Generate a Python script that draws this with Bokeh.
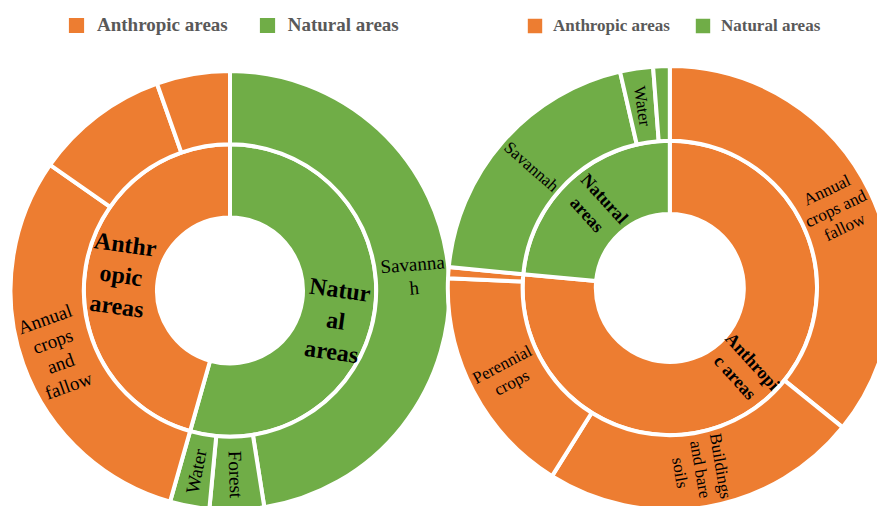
import math

from bokeh.core.properties import value
from bokeh.embed import file_html
from bokeh.models import ColumnDataSource, Legend, LegendItem, Range1d
from bokeh.plotting import figure
from bokeh.resources import INLINE

# ---- data: land-cover shares (%) ----
# left panel
left_groups = ["Natural areas", "Anthropic areas"]
left_group_labels = ["Natur\nal\nareas", "Anthr\nopic\nareas"]
left_classes = ["Savannah", "Forest", "Water",
                "Annual crops and fallow", "Perennial crops", "Buildings and bare soils"]
left_class_group = ["Natural areas", "Natural areas", "Natural areas",
                    "Anthropic areas", "Anthropic areas", "Anthropic areas"]
left_class_share = [47.5, 4.0, 2.9, 30.3, 9.9, 5.4]
left_class_labels = ["Savanna\nh", "Forest", "Water", "Annual\ncrops\nand\nfallow", "", ""]

# right panel
right_groups = ["Anthropic areas", "Natural areas"]
right_group_labels = ["Anthropi\nc areas", "Natural\nareas"]
right_classes = ["Annual crops and fallow", "Buildings and bare soils", "Perennial crops",
                 "Other anthropic", "Savannah", "Water", "Forest"]
right_class_group = ["Anthropic areas", "Anthropic areas", "Anthropic areas",
                     "Anthropic areas", "Natural areas", "Natural areas", "Natural areas"]
right_class_share = [35.8, 23.1, 16.8, 0.8, 19.9, 2.4, 1.2]
right_class_labels = ["Annual\ncrops and\nfallow", "Buildings\nand bare\nsoils", "Perennial\ncrops",
                      "", "Savannah", "Water", ""]

legend_labels = ["Anthropic areas", "Natural areas"]

# ---- styling ----
COLORS = {"Anthropic areas": "#ED7D31", "Natural areas": "#70AD47"}
FONT = "Liberation Serif"
W, H = 877, 506

p = figure(width=W, height=H, output_backend="svg", toolbar_location=None,
           x_range=Range1d(0, W), y_range=Range1d(0, H), min_border=0)
p.axis.visible = False
p.grid.visible = False
p.outline_line_color = None
p.background_fill_color = "white"


def rotation(theta_deg):
    """Radial text rotation (Bokeh angle, radians) for a clockwise-from-top angle."""
    if theta_deg < 180:
        cw = theta_deg - 90
    else:
        cw = theta_deg - 270
    return math.radians(-cw)


def sunburst(cx, cy, r_hole, r_mid, r_out, groups, group_labels, classes, class_group,
             shares, class_labels, inner_font, outer_font, inner_lh, outer_lh,
             inner_r_lbl, outer_r_lbl, inner_shift=None):
    inner_shift = inner_shift or {}
    cy = H - cy
    group_share = [sum(s for s, g in zip(shares, class_group) if g == grp) for grp in groups]

    def ring(names, vals, cols):
        total = sum(vals)
        t0 = 0.0
        rows = dict(start=[], end=[], color=[], name=[], mid=[])
        for nm, v, c in zip(names, vals, cols):
            t1 = t0 + 360.0 * v / total
            rows["start"].append(math.radians(90 - t0))
            rows["end"].append(math.radians(90 - t1))
            rows["color"].append(c)
            rows["name"].append(nm)
            rows["mid"].append((t0 + t1) / 2)
            t0 = t1
        return rows

    inner = ring(groups, group_share, [COLORS[g] for g in groups])
    outer = ring(classes, shares, [COLORS[g] for g in class_group])

    renderers = {}
    for grp in groups:
        sel_i = [k for k, n in enumerate(inner["name"]) if n == grp]
        sel_o = [k for k, g in enumerate(class_group) if g == grp]
        src = ColumnDataSource(dict(
            x=[cx] * (len(sel_i) + len(sel_o)),
            y=[cy] * (len(sel_i) + len(sel_o)),
            r0=[r_hole] * len(sel_i) + [r_mid] * len(sel_o),
            r1=[r_mid] * len(sel_i) + [r_out] * len(sel_o),
            start=[inner["start"][k] for k in sel_i] + [outer["start"][k] for k in sel_o],
            end=[inner["end"][k] for k in sel_i] + [outer["end"][k] for k in sel_o],
        ))
        renderers[grp] = p.annular_wedge(
            x="x", y="y", inner_radius="r0", outer_radius="r1",
            start_angle="start", end_angle="end", direction="clock", source=src,
            fill_color=COLORS[grp], line_color="white", line_width=4)

    def labels(rows, texts, r_lbl, font_size, style, lh, shift):
        xs, ys, ang, txt = [], [], [], []
        for nm, mid, t in zip(rows["name"], rows["mid"], texts):
            if not t:
                continue
            pos = mid + shift.get(nm, 0.0)
            xs.append(cx + r_lbl * math.sin(math.radians(pos)))
            ys.append(cy + r_lbl * math.cos(math.radians(pos)))
            ang.append(rotation(mid))
            txt.append(t)
        p.text(x=xs, y=ys, text=txt, angle=ang, text_align="center", text_baseline="middle",
               text_font=value(FONT), text_font_size=font_size, text_font_style=style,
               text_color="black", text_line_height=lh)

    labels(inner, group_labels, inner_r_lbl, inner_font, "bold", inner_lh, inner_shift)
    labels(outer, class_labels, outer_r_lbl, outer_font, "normal", outer_lh, {})
    return renderers


left_r = sunburst(229.5, 290, 73, 146.2, 219.5, left_groups, left_group_labels, left_classes,
                  left_class_group, left_class_share, left_class_labels,
                  "24px", "19px", 1.2, 1.12, 110, 184, inner_shift={"Natural areas": 8.0})
right_r = sunburst(669.3, 287.5, 74, 147.2, 222, right_groups, right_group_labels, right_classes,
                   right_class_group, right_class_share, right_class_labels,
                   "18px", "17px", 1.18, 1.08, 110, 184)


def add_legend(rends, loc, glyph, standoff, spacing, size):
    lg = Legend(items=[LegendItem(label=lbl, renderers=[rends[lbl]]) for lbl in legend_labels],
                orientation="horizontal", location=loc, glyph_width=glyph, glyph_height=glyph,
                label_standoff=standoff, spacing=spacing, padding=0, margin=0,
                border_line_color=None, background_fill_alpha=0,
                label_text_font=FONT, label_text_font_style="bold",
                label_text_font_size=size, label_text_color="#595959",
                label_height=glyph, label_text_baseline="middle")
    p.add_layout(lg)


add_legend(left_r, (64, 469), 24, 9, 27, "19px")
add_legend(right_r, (523, 469), 23, 7, 21, "17px")

open("out.html", "w").write(file_html(p, INLINE))
